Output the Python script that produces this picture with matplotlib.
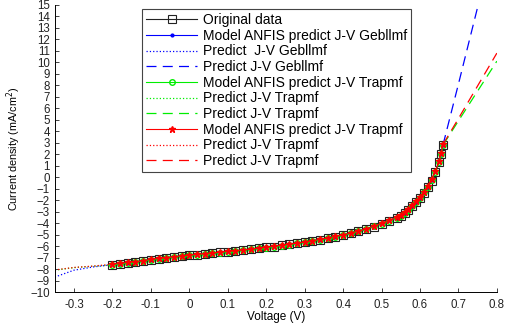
import numpy as np
import matplotlib.pyplot as plt

plt.rcParams['font.family'] = ['Liberation Sans', 'DejaVu Sans']

# measured J-V data
v_data = [-0.20, -0.18, -0.16, -0.14, -0.12, -0.10, -0.08, -0.06, -0.04, -0.02,
          0.00, 0.02, 0.04, 0.06, 0.08, 0.10, 0.12, 0.14, 0.16, 0.18,
          0.20, 0.22, 0.24, 0.26, 0.28, 0.30, 0.32, 0.34, 0.36, 0.38,
          0.40, 0.42, 0.44, 0.46, 0.48, 0.50, 0.52, 0.54, 0.55, 0.56,
          0.57, 0.58, 0.59, 0.60, 0.61, 0.62, 0.63, 0.64, 0.65, 0.655, 0.66]
j_data = [-7.62, -7.55, -7.46, -7.38, -7.28, -7.18, -7.10, -7.02, -6.94, -6.86,
          -6.80, -6.74, -6.68, -6.62, -6.55, -6.48, -6.41, -6.35, -6.28, -6.20,
          -6.12, -6.04, -5.95, -5.86, -5.76, -5.66, -5.55, -5.44, -5.32, -5.18,
          -5.04, -4.88, -4.72, -4.52, -4.30, -4.05, -3.80, -3.55, -3.35, -3.15,
          -2.85, -2.55, -2.20, -1.85, -1.35, -0.90, -0.30, 0.45, 1.30, 2.00, 2.80]

# ANFIS model outputs
j_gbell = [-7.60, -7.53, -7.45, -7.37, -7.27, -7.18, -7.09, -7.01, -6.93, -6.86,
           -6.79, -6.73, -6.67, -6.61, -6.54, -6.47, -6.40, -6.34, -6.27, -6.19,
           -6.11, -6.03, -5.94, -5.85, -5.75, -5.65, -5.54, -5.43, -5.31, -5.17,
           -5.03, -4.87, -4.70, -4.50, -4.28, -4.03, -3.76, -3.50, -3.31, -3.10,
           -2.82, -2.50, -2.15, -1.78, -1.30, -0.82, -0.22, 0.52, 1.38, 2.05, 2.82]
j_trap_g = [-7.64, -7.56, -7.47, -7.39, -7.29, -7.19, -7.11, -7.03, -6.95, -6.87,
            -6.81, -6.75, -6.69, -6.63, -6.56, -6.49, -6.42, -6.36, -6.29, -6.21,
            -6.13, -6.05, -5.96, -5.87, -5.77, -5.67, -5.56, -5.45, -5.33, -5.19,
            -5.05, -4.89, -4.71, -4.51, -4.29, -4.04, -3.78, -3.53, -3.34, -3.13,
            -2.84, -2.53, -2.18, -1.82, -1.33, -0.87, -0.27, 0.48, 1.33, 2.02, 2.80]
j_trap_r = [-7.58, -7.51, -7.43, -7.35, -7.26, -7.16, -7.08, -7.00, -6.92, -6.85,
            -6.78, -6.72, -6.66, -6.60, -6.53, -6.46, -6.39, -6.33, -6.26, -6.18,
            -6.10, -6.02, -5.93, -5.84, -5.74, -5.64, -5.53, -5.42, -5.30, -5.16,
            -5.02, -4.86, -4.69, -4.49, -4.27, -4.02, -3.75, -3.48, -3.28, -3.07,
            -2.78, -2.46, -2.10, -1.72, -1.25, -0.78, -0.18, 0.55, 1.40, 2.08, 2.85]

# extrapolated predictions
v_left = [-0.35, -0.30, -0.25, -0.20]
j_left_gbell = [-8.70, -8.10, -7.82, -7.62]
j_left_trap_g = [-8.10, -7.88, -7.76, -7.64]
j_left_trap_r = [-8.08, -7.86, -7.74, -7.58]
v_right = [0.66, 0.70, 0.75, 0.80]
j_right_gbell = [2.82, 8.10, 14.80, 21.50]
j_right_trap_g = [2.80, 4.90, 7.50, 10.10]
j_right_trap_r = [2.85, 5.10, 7.95, 10.80]

fig = plt.figure(figsize=(5.07, 3.25), dpi=100)
ax = fig.add_axes([0.108, 0.1015, 0.872, 0.8835])

ax.plot(v_data, j_data, 's-', color='#222222', mfc='none', ms=6, lw=0.8, mew=0.8, label='Original data')
ax.plot(v_data, j_gbell, 'b.-', ms=4, lw=0.8, label='Model ANFIS predict J-V Gebllmf')
ax.plot(v_left, j_left_gbell, 'b:', lw=0.9, label='Predict  J-V Gebllmf')
ax.plot(v_right, j_right_gbell, 'b--', lw=0.9, dashes=(8, 5), label='Predict J-V Gebllmf')
ax.plot(v_data, j_trap_g, '-o', color='#00ee00', mfc='none', ms=4, lw=0.8, label='Model ANFIS predict J-V Trapmf')
ax.plot(v_left, j_left_trap_g, ':', color='#00ee00', lw=0.9, label='Predict J-V Trapmf')
ax.plot(v_right, j_right_trap_g, '--', color='#00ee00', lw=0.9, dashes=(8, 5), label='Predict J-V Trapmf')
ax.plot(v_data, j_trap_r, 'r-*', ms=5, lw=0.8, label='Model ANFIS predict J-V Trapmf')
ax.plot(v_left, j_left_trap_r, 'r:', lw=0.9, label='Predict J-V Trapmf')
ax.plot(v_right, j_right_trap_r, 'r--', lw=0.9, dashes=(8, 5), label='Predict J-V Trapmf')

ax.set_xlim(-0.35, 0.8)
ax.set_ylim(-10, 15)
ax.set_xticks(np.arange(-0.3, 0.81, 0.1))
ax.set_xticklabels(['-0.3', '-0.2', '-0.1', '0', '0.1', '0.2', '0.3', '0.4', '0.5', '0.6', '0.7', '0.8'])
ax.set_yticks(range(-10, 16))
ax.tick_params(direction='in', length=3, labelsize=8.3, width=0.6, colors='#222222')
ax.tick_params(axis='x', pad=5)
ax.spines['top'].set_visible(False)
ax.spines['right'].set_visible(False)
for s in ('left', 'bottom'):
    ax.spines[s].set_linewidth(0.7)
ax.set_xlabel('Voltage (V)', fontsize=8.5, labelpad=0)
ax.set_ylabel('Current density (mA/cm$^2$)', fontsize=7.8, labelpad=5)

leg = ax.legend(loc='upper left', bbox_to_anchor=(0.197, 0.986), borderaxespad=0, fontsize=10,
                handlelength=3.7, labelspacing=0.12, borderpad=0.3,
                fancybox=False, framealpha=1, edgecolor='#444444', handletextpad=0.4)
leg.get_frame().set_linewidth(0.8)

fig.savefig('out.png', dpi=100)
